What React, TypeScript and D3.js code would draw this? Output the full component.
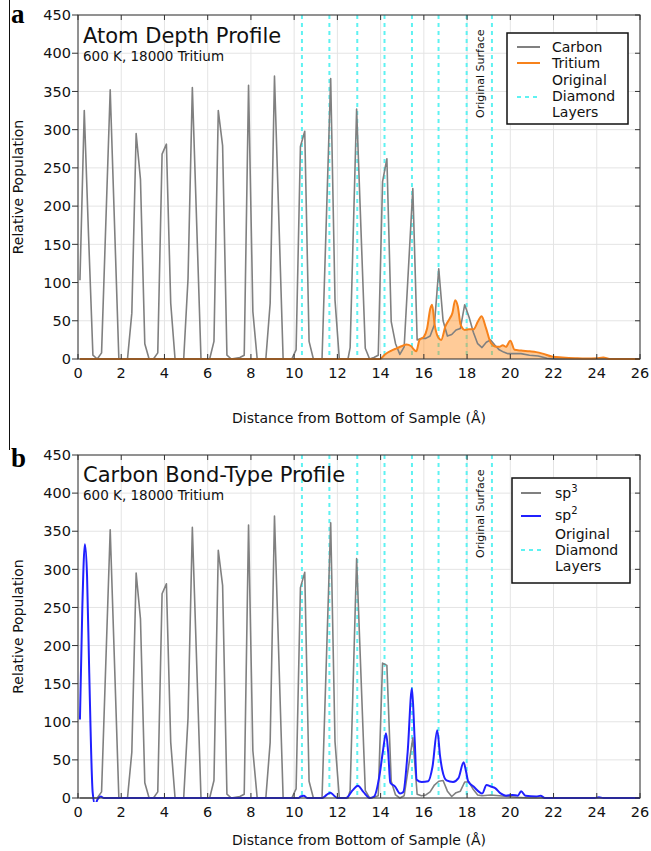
import React from 'react';
import * as d3 from 'd3';

// ---------- data ----------
const xTicks = [0, 2, 4, 6, 8, 10, 12, 14, 16, 18, 20, 22, 24, 26];
const yTicks = [0, 50, 100, 150, 200, 250, 300, 350, 400, 450];
const layerDepths = [10.36, 11.63, 12.92, 14.18, 15.45, 16.68, 17.98, 19.15];

type Pt = [number, number];

const carbon: Pt[] = [
  [0.09, 103], [0.29, 325], [0.49, 160], [0.69, 5], [0.89, 0], [1.09, 8], [1.49, 352], [1.89, 0],
  [2.29, 0], [2.49, 60], [2.69, 295], [2.89, 235], [3.09, 20], [3.29, 0], [3.49, 0], [3.69, 8],
  [3.89, 268], [4.09, 281], [4.29, 73], [4.49, 0], [4.89, 0], [5.09, 105], [5.29, 355], [5.69, 0],
  [6.09, 0], [6.29, 23], [6.49, 325], [6.69, 279], [6.89, 5], [7.09, 0], [7.49, 2], [7.69, 5],
  [7.89, 358], [8.09, 62], [8.29, 0], [8.69, 0], [8.89, 73], [9.09, 370], [9.49, 0], [9.89, 0],
  [10.09, 12], [10.29, 278], [10.49, 298], [10.69, 23], [10.89, 0], [11.29, 0], [11.69, 367],
  [11.89, 77], [12.09, 0], [12.49, 0], [12.59, 15], [12.89, 327], [13.29, 14], [13.49, 0],
  [13.69, 2], [13.89, 5], [14.09, 232], [14.29, 262], [14.49, 49], [14.69, 20], [14.89, 6],
  [15.09, 16], [15.49, 223], [15.69, 25], [15.89, 27], [16.09, 27], [16.29, 30], [16.49, 45],
  [16.69, 118], [16.89, 50], [17.09, 30], [17.29, 32], [17.49, 38], [17.69, 40], [17.89, 71],
  [18.09, 55], [18.29, 35], [18.49, 20], [18.69, 15], [18.89, 22], [19.09, 25], [19.29, 18],
  [19.49, 12], [19.69, 9], [19.89, 7], [20.49, 7], [20.89, 5], [21.29, 4], [21.69, 1], [22.09, 0],
  [26, 0],
];

const tritium: Pt[] = [
  [0.09, 0], [13.98, 0], [14.2, 6], [14.5, 11], [14.75, 14], [15.0, 17], [15.2, 19], [15.4, 17],
  [15.55, 12], [15.65, 10], [15.8, 25], [16.0, 29], [16.15, 40], [16.3, 66], [16.38, 71],
  [16.5, 45], [16.65, 29], [16.8, 25], [17.0, 43], [17.2, 53], [17.32, 60], [17.45, 77],
  [17.57, 69], [17.7, 45], [17.9, 38], [18.1, 39], [18.3, 39], [18.5, 49], [18.67, 56],
  [18.88, 40], [19.1, 21], [19.35, 16], [19.5, 16], [19.65, 18], [19.8, 16], [20.0, 24],
  [20.2, 12], [20.5, 11], [20.9, 10], [21.2, 9], [21.5, 7], [21.96, 3], [22.4, 2], [23.0, 1],
  [23.5, 0.5], [24.0, 1], [24.3, 2], [24.6, 0], [26, 0],
];

const sp3: Pt[] = [
  [0.09, 0], [0.89, 0], [1.09, 8], [1.49, 352], [1.89, 0], [2.29, 0], [2.49, 60], [2.69, 295],
  [2.89, 235], [3.09, 20], [3.29, 0], [3.49, 0], [3.69, 8], [3.89, 268], [4.09, 281], [4.29, 73],
  [4.49, 0], [4.89, 0], [5.09, 105], [5.29, 355], [5.69, 0], [6.09, 0], [6.29, 23], [6.49, 325],
  [6.69, 279], [6.89, 5], [7.09, 0], [7.49, 2], [7.69, 5], [7.89, 358], [8.09, 62], [8.29, 0],
  [8.69, 0], [8.89, 73], [9.09, 370], [9.49, 0], [9.89, 0], [10.09, 12], [10.29, 276],
  [10.49, 296], [10.69, 22], [10.89, 0], [11.29, 0], [11.69, 361], [11.89, 74], [12.09, 0],
  [12.49, 0], [12.59, 10], [12.89, 314], [13.29, 10], [13.49, 0], [13.69, 1], [13.89, 3],
  [14.09, 177], [14.29, 174], [14.49, 22], [14.69, 4], [14.89, 0], [15.09, 3], [15.49, 79],
  [15.69, 5], [15.89, 3], [16.09, 4], [16.29, 8], [16.49, 17], [16.69, 22], [16.89, 23],
  [17.09, 9], [17.29, 2], [17.49, 7], [17.69, 9], [17.89, 21], [18.09, 21], [18.29, 11],
  [18.49, 4], [18.69, 3], [19.09, 4], [19.49, 3], [19.89, 2], [20.29, 1], [20.89, 0], [26, 0],
];

const sp2: Pt[] = [
  [0.09, 103], [0.2, 250], [0.32, 333], [0.42, 290], [0.52, 164], [0.68, 7], [0.79, -9],
  [0.9, -2], [1.05, 2], [1.2, 0], [10.2, 0], [10.3, 2], [10.45, 3], [10.6, 0], [11.3, 0],
  [11.5, 4], [11.67, 7], [11.85, 3], [12.0, 0], [12.4, 0], [12.7, 10], [12.95, 16], [13.2, 8],
  [13.5, 0], [13.7, 2], [13.95, 30], [14.1, 60], [14.25, 85], [14.35, 60], [14.45, 20],
  [14.67, 15], [14.9, 6], [15.05, 8], [15.25, 60], [15.45, 144], [15.57, 80], [15.67, 24],
  [15.9, 21], [16.2, 22], [16.4, 41], [16.62, 89], [16.75, 55], [16.85, 37], [17.05, 23],
  [17.35, 21], [17.6, 26], [17.84, 47], [17.95, 35], [18.05, 22], [18.3, 15], [18.7, 6],
  [18.9, 17], [19.1, 15], [19.3, 13], [19.55, 6], [19.8, 3], [20.1, 4], [20.35, 3], [20.5, 9],
  [20.7, 3], [21.2, 2], [21.4, 3], [21.6, 0], [23.9, 0], [24.1, 1], [24.3, 0], [26, 0],
];

// ---------- styling ----------
const FONT = '"DejaVu Sans", Verdana, sans-serif';
const GRAY = '#808080';
const ORANGE = '#f7821b';
const BLUE = '#2020ff';
const CYAN = '#5ef2f2';

const X0 = 78;
const X1 = 640;

type SeriesDef = { data: Pt[]; color: string; width: number; smooth: boolean };
type LegendEntry = { kind: 'line' | 'dash'; color: string; lineY?: number; texts: { y: number; node: React.ReactNode }[] };

interface PanelProps {
  top: number;
  bottom: number;
  letter: string;
  letterY: number;
  title: string;
  titleY: number;
  subtitleY: number;
  xTitleY: number;
  area?: Pt[];
  series: SeriesDef[];
  legendBox: { x: number; y: number; w: number; h: number };
  legendLineX: [number, number];
  legendTextX: number;
  legend: LegendEntry[];
}

function Panel(p: PanelProps) {
  const x = d3.scaleLinear().domain([0, 26]).range([X0, X1]);
  const y = d3.scaleLinear().domain([0, 450]).range([p.bottom, p.top]);
  const lineLinear = d3.line<Pt>().x((d) => x(d[0])).y((d) => y(d[1]));
  const lineSmooth = d3.line<Pt>().x((d) => x(d[0])).y((d) => y(d[1])).curve(d3.curveMonotoneX);
  const areaGen = d3
    .area<Pt>()
    .x((d) => x(d[0]))
    .y0(y(0))
    .y1((d) => y(d[1]))
    .curve(d3.curveMonotoneX);
  const clipId = `clip-${p.letter}`;
  const tick = 5;
  return (
    <g>
      <defs>
        <clipPath id={clipId}>
          <rect x={X0} y={p.top} width={X1 - X0} height={p.bottom - p.top + 4} />
        </clipPath>
      </defs>
      {/* grid */}
      {xTicks.map((t) => (
        <line key={'gx' + t} x1={x(t)} x2={x(t)} y1={p.top} y2={p.bottom} stroke="#e4e4e4" strokeWidth={1} />
      ))}
      {yTicks.map((t) => (
        <line key={'gy' + t} x1={X0} x2={X1} y1={y(t)} y2={y(t)} stroke="#e4e4e4" strokeWidth={1} />
      ))}
      {/* diamond layers */}
      {layerDepths.map((d) => (
        <line
          key={'l' + d}
          x1={x(d)}
          x2={x(d)}
          y1={p.top}
          y2={p.bottom}
          stroke={CYAN}
          strokeWidth={2}
          strokeDasharray="4,4"
        />
      ))}
      <text
        transform={`translate(484,${p.top + 103}) rotate(-90)`}
        fontFamily={FONT}
        fontSize={11}
        fill="#111"
      >
        Original Surface
      </text>
      {/* data */}
      <g clipPath={`url(#${clipId})`}>
        {p.area && <path d={areaGen(p.area) || ''} fill="#ff8c1a" fillOpacity={0.45} stroke="none" />}
        {p.series.map((s, i) => (
          <path
            key={'s' + i}
            d={(s.smooth ? lineSmooth : lineLinear)(s.data) || ''}
            fill="none"
            stroke={s.color}
            strokeWidth={s.width}
            strokeLinejoin="round"
          />
        ))}
      </g>
      {/* frame */}
      <rect x={X0} y={p.top} width={X1 - X0} height={p.bottom - p.top} fill="none" stroke="#333" strokeWidth={1} />
      {xTicks.map((t) => (
        <g key={'tx' + t}>
          <line x1={x(t)} x2={x(t)} y1={p.top} y2={p.top + tick} stroke="#333" />
          <line x1={x(t)} x2={x(t)} y1={p.bottom} y2={p.bottom - tick} stroke="#333" />
          <text x={x(t)} y={p.bottom + 19} textAnchor="middle" fontFamily={FONT} fontSize={14.5} fill="#111">
            {t}
          </text>
        </g>
      ))}
      {yTicks.map((t) => (
        <g key={'ty' + t}>
          <line x1={X0 - 6} x2={X0} y1={y(t)} y2={y(t)} stroke="#333" />
          <line x1={X1} x2={X1 - tick} y1={y(t)} y2={y(t)} stroke="#333" />
          <text x={71} y={y(t)} dy="0.36em" textAnchor="end" fontFamily={FONT} fontSize={14.5} fill="#111">
            {t}
          </text>
        </g>
      ))}
      {/* titles */}
      <text x={83} y={p.titleY} fontFamily={FONT} fontSize={21} fill="#111">
        {p.title}
      </text>
      <text x={83} y={p.subtitleY} fontFamily={FONT} fontSize={13.5} fill="#111">
        600 K, 18000 Tritium
      </text>
      <text
        transform={`translate(23,${(p.top + p.bottom) / 2}) rotate(-90)`}
        textAnchor="middle"
        fontFamily={FONT}
        fontSize={14}
        fill="#111"
      >
        Relative Population
      </text>
      <text x={(X0 + X1) / 2} y={p.xTitleY} textAnchor="middle" fontFamily={FONT} fontSize={14} fill="#111">
        Distance from Bottom of Sample (Å)
      </text>
      <text x={11} y={p.letterY} fontFamily='"Liberation Serif", "DejaVu Serif", serif' fontWeight="bold" fontSize={27} fill="#000">
        {p.letter}
      </text>
      {/* legend */}
      <rect
        x={p.legendBox.x}
        y={p.legendBox.y}
        width={p.legendBox.w}
        height={p.legendBox.h}
        fill="#fff"
        stroke="#111"
        strokeWidth={1.5}
      />
      {p.legend.map((e, i) => (
        <g key={'lg' + i}>
          {e.lineY !== undefined && (
            <line
              x1={p.legendLineX[0]}
              x2={p.legendLineX[1]}
              y1={e.lineY}
              y2={e.lineY}
              stroke={e.color}
              strokeWidth={2}
              strokeDasharray={e.kind === 'dash' ? '4,4' : undefined}
            />
          )}
          {e.texts.map((t, j) => (
            <text key={j} x={p.legendTextX} y={t.y} fontFamily={FONT} fontSize={14} fill="#111">
              {t.node}
            </text>
          ))}
        </g>
      ))}
    </g>
  );
}

export default function App() {
  return (
    <svg
      width={651}
      height={851}
      viewBox="0 0 651 851"
      style={{ position: 'absolute', left: 0, top: 0, background: '#fff' }}
    >
      <rect x={0} y={0} width={651} height={851} fill="#fff" />
      <line x1={9.5} x2={9.5} y1={0} y2={450} stroke="#111" strokeWidth={1} />
      <Panel
        top={15}
        bottom={359}
        letter="a"
        letterY={23}
        title="Atom Depth Profile"
        titleY={43}
        subtitleY={61}
        xTitleY={423}
        area={tritium}
        series={[
          { data: carbon, color: GRAY, width: 1.6, smooth: false },
          { data: tritium, color: ORANGE, width: 2, smooth: true },
        ]}
        legendBox={{ x: 507, y: 33, w: 121, h: 91 }}
        legendLineX={[517, 540]}
        legendTextX={552}
        legend={[
          { kind: 'line', color: GRAY, lineY: 47, texts: [{ y: 52, node: 'Carbon' }] },
          { kind: 'line', color: ORANGE, lineY: 63, texts: [{ y: 68, node: 'Tritium' }] },
          {
            kind: 'dash',
            color: CYAN,
            lineY: 97,
            texts: [
              { y: 85, node: 'Original' },
              { y: 101, node: 'Diamond' },
              { y: 117, node: 'Layers' },
            ],
          },
        ]}
      />
      <Panel
        top={455}
        bottom={798}
        letter="b"
        letterY={467}
        title="Carbon Bond-Type Profile"
        titleY={482}
        subtitleY={500}
        xTitleY={845}
        series={[
          { data: sp3, color: GRAY, width: 1.6, smooth: false },
          { data: sp2, color: BLUE, width: 2, smooth: true },
        ]}
        legendBox={{ x: 512, y: 478, w: 118, h: 105 }}
        legendLineX={[521, 541]}
        legendTextX={555}
        legend={[
          {
            kind: 'line',
            color: GRAY,
            lineY: 493,
            texts: [
              {
                y: 498,
                node: (
                  <>
                    sp<tspan fontSize={10} dy={-6}>3</tspan>
                  </>
                ),
              },
            ],
          },
          {
            kind: 'line',
            color: BLUE,
            lineY: 516,
            texts: [
              {
                y: 520,
                node: (
                  <>
                    sp<tspan fontSize={10} dy={-6}>2</tspan>
                  </>
                ),
              },
            ],
          },
          {
            kind: 'dash',
            color: CYAN,
            lineY: 550,
            texts: [
              { y: 539, node: 'Original' },
              { y: 555, node: 'Diamond' },
              { y: 571, node: 'Layers' },
            ],
          },
        ]}
      />
    </svg>
  );
}
